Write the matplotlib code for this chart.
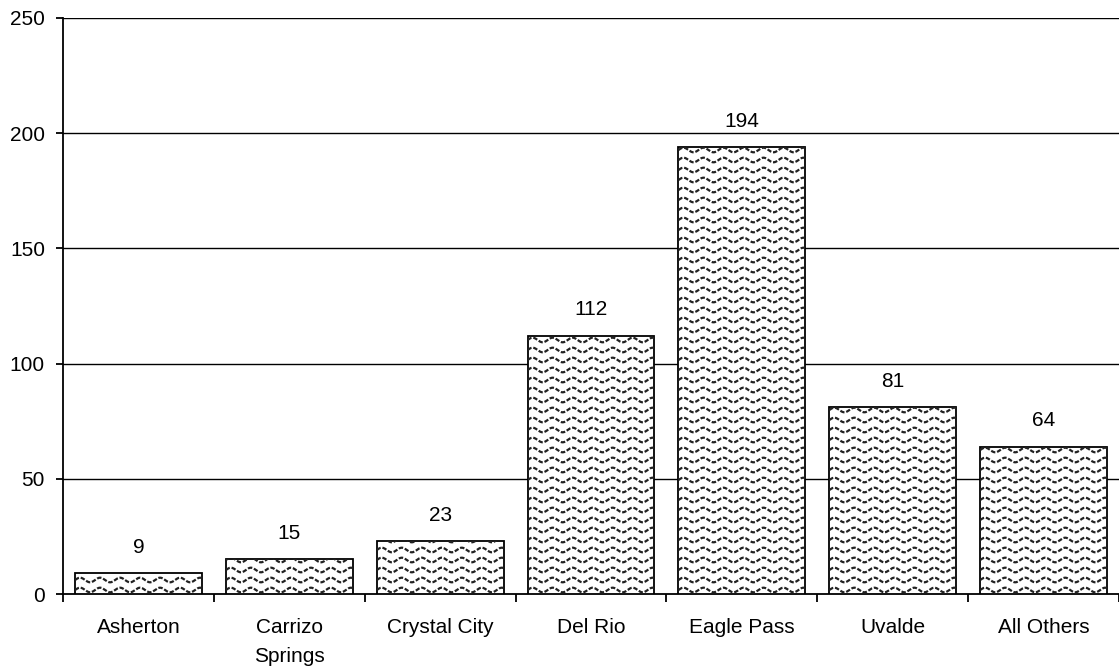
import numpy as np
import matplotlib
matplotlib.use('Agg')
import matplotlib.pyplot as plt

plt.rcParams['font.family'] = ['Liberation Sans', 'DejaVu Sans']

categories = ['Asherton', 'Carrizo\nSprings', 'Crystal City', 'Del Rio',
              'Eagle Pass', 'Uvalde', 'All Others']
values = [9, 15, 23, 112, 194, 81, 64]

fig = plt.figure(figsize=(11.19, 6.67), dpi=100)
ax = fig.add_axes([63 / 1119, 1 - 594 / 667, 1 - 63 / 1119, (594 - 18) / 667])

x = np.arange(len(categories))
bars = ax.bar(x, values, width=0.84, color='white', edgecolor='black',
              linewidth=1.3, zorder=3)

ax.set_xlim(-0.5, len(categories) - 0.5)
ax.set_ylim(0, 250)
ax.set_yticks(range(0, 251, 50))

# wavy fill pattern, clipped to each bar
px_x = 7 / (1119 - 63)          # data units per pixel (x)
px_y = 250 / (594 - 18)         # data units per pixel (y)
for bar in bars:
    x0, w, h = bar.get_x(), bar.get_width(), bar.get_height()
    xs = np.linspace(x0, x0 + w, 500)
    yrow = 4 * px_y
    while yrow < h + 10 * px_y:
        ys = yrow + 2.3 * px_y * np.sin(2 * np.pi * (xs - x0) / (20 * px_x))
        ln, = ax.plot(xs, ys, color='#222222', lw=1.6, ls=(0, (2, 0.8)), zorder=4)
        ln.set_clip_path(bar)
        yrow += 10 * px_y
    ax.text(bar.get_x() + w / 2, h + 26 * px_y, str(h), ha='center', va='center',
            fontsize=15, zorder=5)

# gridlines
for yv in range(50, 251, 50):
    ax.axhline(yv, color='black', lw=1, zorder=1)

for s in ['top', 'right']:
    ax.spines[s].set_visible(False)
ax.spines['left'].set_linewidth(1.3)
ax.spines['bottom'].set_linewidth(1.3)

# ticks between categories on x-axis
ax.set_xticks(np.arange(-0.5, len(categories) - 0.4, 1))
ax.set_xticklabels([])
ax.set_xticks(x, minor=True)
ax.set_xticklabels(categories, minor=True, fontsize=15, linespacing=1.7)
ax.tick_params(axis='x', which='major', length=6, width=1.3, direction='out')
ax.tick_params(axis='x', which='minor', length=0, pad=17)
ax.tick_params(axis='y', length=5, width=1.3, labelsize=15, pad=8)

fig.savefig('out.png', dpi=100)
